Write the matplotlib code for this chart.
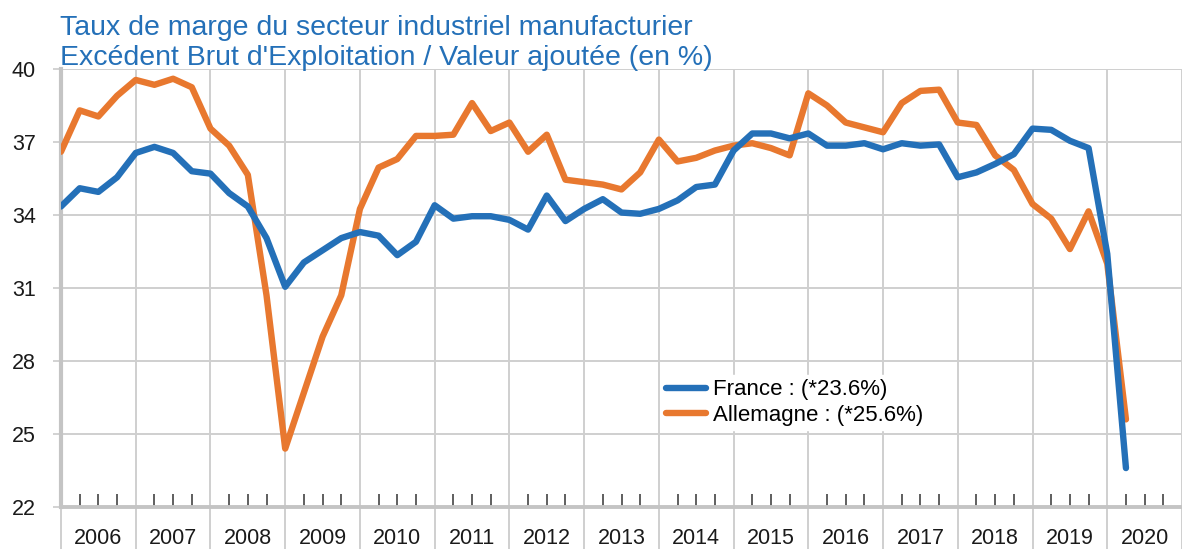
import numpy as np
import matplotlib
matplotlib.use("Agg")
import matplotlib.pyplot as plt
import matplotlib.transforms as mtransforms

# ---- data (quarterly, 2006Q1 .. 2020Q2) ----
years = list(range(2006, 2021))
france = [34.35, 35.1, 34.95, 35.55, 36.55, 36.8, 36.55, 35.8,
          35.7, 34.9, 34.35, 33.05, 31.05, 32.05, 32.55, 33.05,
          33.3, 33.15, 32.35, 32.9, 34.4, 33.85, 33.95, 33.95,
          33.8, 33.4, 34.8, 33.75, 34.25, 34.65, 34.1, 34.05,
          34.25, 34.6, 35.15, 35.25, 36.65, 37.35, 37.35, 37.15,
          37.35, 36.85, 36.85, 36.95, 36.7, 36.95, 36.85, 36.9,
          35.55, 35.75, 36.1, 36.5, 37.55, 37.5, 37.05, 36.75,
          32.4, 23.6]
allemagne = [36.6, 38.3, 38.05, 38.9, 39.55, 39.35, 39.6, 39.25,
             37.55, 36.85, 35.65, 30.7, 24.4, 26.7, 29.0, 30.7,
             34.25, 35.95, 36.3, 37.25, 37.25, 37.3, 38.6, 37.45,
             37.8, 36.6, 37.3, 35.45, 35.35, 35.25, 35.05, 35.75,
             37.1, 36.2, 36.35, 36.65, 36.85, 36.95, 36.75, 36.45,
             39.0, 38.5, 37.8, 37.6, 37.4, 38.6, 39.1, 39.15,
             37.8, 37.7, 36.45, 35.85, 34.45, 33.85, 32.6, 34.15,
             32.0, 25.6]
labels = ["France : (*23.6%)", "Allemagne : (*25.6%)"]
title_lines = ["Taux de marge du secteur industriel manufacturier",
               "Excédent Brut d'Exploitation / Valeur ajoutée (en %)"]
yticks = [22, 25, 28, 31, 34, 37, 40]

BLUE = "#2470B8"
ORANGE = "#E8782F"
GRID = "#CFCFCF"
FONT = "Liberation Sans"

W, H = 1182, 549
fig = plt.figure(figsize=(W / 100, H / 100), dpi=100)
ax = fig.add_axes([61 / W, 1 - 507 / H, 1 - 61 / W, 438 / H])

x = np.arange(len(france))
ax.plot(x, france, color=BLUE, lw=4.6, solid_capstyle="round",
        solid_joinstyle="round", label=labels[0], zorder=4)
ax.plot(x, allemagne, color=ORANGE, lw=4.6, solid_capstyle="round",
        solid_joinstyle="round", label=labels[1], zorder=3)

nq = 4 * len(years)
ax.set_xlim(0, 59.56)
ax.set_ylim(22, 40)

# y axis
ax.set_yticks(yticks)
ax.set_yticklabels([str(v) for v in yticks], fontsize=15.5, family=FONT)
ax.tick_params(axis="y", direction="out", length=6, width=1.3,
               color=GRID, pad=12)
ax.yaxis.grid(True, color=GRID, lw=1.4)

# x axis: year boundaries (major, gray, long out) and quarters (minor, in)
ax.set_xticks(np.arange(0, nq + 1, 4))
ax.set_xticklabels([])
ax.set_xticks([q for q in range(nq) if q % 4 != 0], minor=True)
ax.tick_params(axis="x", which="major", direction="out", length=31,
               width=1.4, color=GRID)
ax.tick_params(axis="x", which="minor", direction="in", length=9.5,
               width=1.1, color="#333333")
ax.xaxis.grid(True, which="major", color=GRID, lw=1.4)
ax.set_axisbelow(True)

trans = mtransforms.blended_transform_factory(ax.transData, ax.transAxes)
for k, yr in enumerate(years):
    ax.text(4 * k + 2, -(538.5 - 507) / 438, str(yr), transform=trans,
            ha="center", va="center", fontsize=15.5, family=FONT,
            color="#1a1a1a", clip_on=False)

for s in ["top", "right"]:
    ax.spines[s].set_visible(False)
ax.spines["left"].set_color("#C4C4C4")
ax.spines["left"].set_linewidth(3)
ax.spines["bottom"].set_color("#C4C4C4")
ax.spines["bottom"].set_linewidth(2.8)
for lab in ax.get_yticklabels():
    lab.set_color("#1a1a1a")

# legend
leg = ax.legend(loc="upper left", bbox_to_anchor=(662 / W, 1 - 375 / H),
                bbox_transform=fig.transFigure, frameon=True,
                prop={"family": FONT, "size": 16}, handlelength=1.8,
                handletextpad=0.3, labelspacing=0.2, borderpad=0.2,
                borderaxespad=0, fancybox=False)
leg.get_frame().set_facecolor("white")
leg.get_frame().set_edgecolor("white")
leg.get_frame().set_alpha(1)
for line in leg.get_lines():
    line.set_linewidth(4.6)
    line.set_solid_capstyle("round")
leg.set_zorder(5)

# title
fig.text(60 / W, 1 - 35 / H, title_lines[0], ha="left", va="baseline",
         fontsize=20.5, family=FONT, color=BLUE)
fig.text(60 / W, 1 - 65 / H, title_lines[1], ha="left", va="baseline",
         fontsize=20.5, family=FONT, color=BLUE)

fig.savefig("out.png", dpi=100)
